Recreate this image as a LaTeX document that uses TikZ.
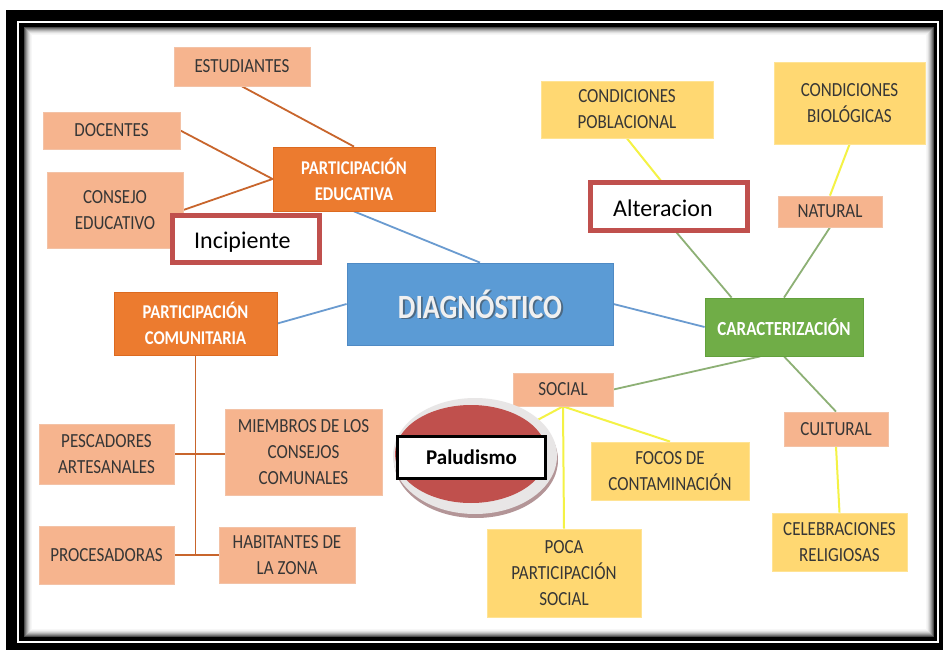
\documentclass[tikz,border=0pt]{standalone}
\usepackage{fontspec}
\setmainfont{Carlito}
\newfontfamily\boxfont{Carlito}[FakeStretch=0.85]
\newfontfamily\diagfont{Carlito}[FakeStretch=0.82]
\usetikzlibrary{calc,backgrounds}
\definecolor{salF}{HTML}{F6B48E}
\definecolor{salD}{HTML}{F3C2A6}
\definecolor{yelF}{HTML}{FFD872}
\definecolor{yelD}{HTML}{FFE394}
\definecolor{orgF}{HTML}{EC7B2F}
\definecolor{orgD}{HTML}{DC6A20}
\definecolor{bluF}{HTML}{5B9BD5}
\definecolor{bluD}{HTML}{4F8AC4}
\definecolor{grnF}{HTML}{70AD47}
\definecolor{grnD}{HTML}{62A03C}
\definecolor{redB}{HTML}{C0504D}
\definecolor{txt}{HTML}{363636}
\definecolor{brnL}{HTML}{C8652C}
\definecolor{bluL}{HTML}{6A9BD0}
\definecolor{grnL}{HTML}{8DB075}
\definecolor{yelL}{HTML}{F4F245}
\definecolor{palG}{HTML}{E8E6E6}
\definecolor{palS}{HTML}{B39597}
\begin{document}
\begin{tikzpicture}[x=1pt,y=-1pt,
  sal/.style={draw=salD, fill=salF, line width=0.8pt, text=txt, align=center, inner sep=0pt,
    font=\boxfont\fontsize{20}{26}\selectfont},
  yel/.style={draw=yelD, fill=yelF, line width=0.8pt, text=txt, align=center, inner sep=0pt,
    font=\boxfont\fontsize{20}{26}\selectfont},
  org/.style={draw=orgD, fill=orgF, line width=0.8pt, text=white, align=center, inner sep=0pt,
    font=\boxfont\bfseries\fontsize{19.5}{26}\selectfont},
  grnbox/.style={draw=grnD, fill=grnF, line width=0.8pt, text=white, align=center, inner sep=0pt,
    font=\boxfont\bfseries\fontsize{20}{26}\selectfont},
  diagbox/.style={draw=bluD, fill=bluF, line width=0.8pt, inner sep=0pt},
  redbox/.style={draw=redB, line width=5pt, fill=white, inner sep=0pt},
  redtext/.style={anchor=base west, inner sep=0pt, text=black, font=\fontsize{24}{28}\selectfont},
  edu/.style={draw=brnL, line width=1.8pt},
  blu/.style={draw=bluL, line width=1.8pt},
  grn/.style={draw=grnL, line width=1.8pt},
  yl/.style={draw=yelL, line width=2pt}]
\useasboundingbox (0,0) rectangle (943,650);

% frame
\begin{scope}[on background layer]
\fill[white] (0,0) rectangle (943,650);
\fill[black] (6,10) rectangle (943,650);
\fill[white] (17,21) rectangle (939,643);
\fill[black] (19,23) rectangle (937,641);
\foreach \i/\c in {0/70,1/55,2/42,3/30,4/20,5/12,6/6,7/3}
  {\fill[black!\c] (24+\i,27+\i) rectangle (934-\i,637-\i);}
\fill[white] (32,35) rectangle (926,629);
\end{scope}

% left: participacion educativa
\node[sal, minimum width=136pt, minimum height=39pt] (est) at (242,66.5) {ESTUDIANTES};
\node[sal, minimum width=137pt, minimum height=37pt] (doc) at (111.5,130.5) {DOCENTES};
\node[sal, minimum width=136pt, minimum height=76pt] (cons) at (115,210) {CONSEJO\\EDUCATIVO};
\node[org, minimum width=162pt, minimum height=64pt] (pe) at (354,179) {PARTICIPACIÓN\\EDUCATIVA};
\node[redbox, minimum width=147pt, minimum height=47pt] (inc) at (246,239) {};
\node[redtext] (inct) at (194,248) {Incipiente};

% center
\node[diagbox, minimum width=266pt, minimum height=82pt] (diag) at (480,304) {};
\node[text=black!75, opacity=0.55, inner sep=0pt, font=\diagfont\bfseries\fontsize{34}{36}\selectfont] (diagsh) at (481.8,305.8) {DIAGNÓSTICO};
\node[text=white!94!black, inner sep=0pt, font=\diagfont\bfseries\fontsize{34}{36}\selectfont] (diagt) at (480,304) {DIAGNÓSTICO};

% left: participacion comunitaria
\node[org, minimum width=163pt, minimum height=63pt] (pc) at (195.5,323.5) {PARTICIPACIÓN\\COMUNITARIA};
\node[sal, minimum width=135pt, minimum height=60pt] (pesc) at (106.5,454) {PESCADORES\\ARTESANALES};
\node[sal, minimum width=157pt, minimum height=86pt] (miem) at (303.5,452) {MIEMBROS DE LOS\\CONSEJOS\\COMUNALES};
\node[sal, minimum width=135pt, minimum height=58pt] (proc) at (106.5,555) {PROCESADORAS};
\node[sal, minimum width=136pt, minimum height=56pt] (hab) at (287,555) {HABITANTES DE\\LA ZONA};

% right: caracterizacion
\node[yel, minimum width=172pt, minimum height=57pt] (cp) at (627,109.5) {CONDICIONES\\POBLACIONAL};
\node[yel, minimum width=151pt, minimum height=82pt] (cb) at (849.5,103) {CONDICIONES\\BIOLÓGICAS};
\node[redbox, minimum width=157pt, minimum height=48pt] (alt) at (669,206.5) {};
\node[redtext] (altt) at (613,216) {Alteracion};
\node[sal, minimum width=104pt, minimum height=31pt] (nat) at (830,211.5) {NATURAL};
\node[grnbox, minimum width=158pt, minimum height=58pt] (car) at (784,327) {CARACTERIZACIÓN};
\node[sal, minimum width=100pt, minimum height=33pt] (soc) at (563,389.5) {SOCIAL};
\node[sal, minimum width=104pt, minimum height=34pt] (cul) at (836,429) {CULTURAL};
\node[yel, minimum width=158pt, minimum height=58pt] (focos) at (670,471) {FOCOS DE\\CONTAMINACIÓN};
\node[yel, minimum width=154pt, minimum height=88pt] (poca) at (564,573) {POCA\\PARTICIPACIÓN\\SOCIAL};
\node[yel, minimum width=135pt, minimum height=58pt] (celeb) at (839.5,542) {CELEBRACIONES\\RELIGIOSAS};

% paludismo
\fill[palS] (476,460) ellipse [x radius=82, y radius=58];
\fill[palG] (475,456) ellipse [x radius=82, y radius=58];
\fill[redB] (471,454) ellipse [x radius=76, y radius=49];
\node[draw=black, line width=2.5pt, fill=white, inner sep=0pt, minimum width=148pt, minimum height=42pt,
  font=\bfseries\fontsize{21}{24}\selectfont] (pal) at (471.5,457.5) {Paludismo};

% hidden ends under the overlay boxes
\coordinate (hy) at (682,207);
\coordinate (hg) at (655,207);
\coordinate (hp) at (500,440);

% connectors
\begin{scope}[on background layer]
\draw[edu] (est.south) -- (pe.north);
\draw[edu] (doc.east) -- (pe.west);
\draw[edu] (cons.east) -- (pe.west);
\draw[edu] (pc.south) -- (pc.south |- proc.east);
\draw[edu] (pesc.east) -- (pesc.east -| miem.west);
\draw[edu] (proc.east) -- (hab.west);
\draw[blu] (pe.south) -- (diag.north);
\draw[blu] (pc.east) -- (diag.west);
\draw[blu] (diag.east) -- (car.west);
\draw[yl] (cp.south) -- (hy);
\draw[grn] (hg) -- ($(car.north west)!0.17!(car.north east)$);
\draw[yl] (cb.south) -- (nat.north);
\draw[grn] (nat.south) -- (car.north);
\draw[grn] (soc.east) -- ($(car.south west)!0.35!(car.south east)$);
\draw[grn] (car.south) -- (cul.north);
\draw[yl] (cul.south) -- (celeb.north);
\draw[yl] (soc.south) -- (poca.north);
\draw[yl] (soc.south) -- (focos.north);
\draw[yl] (soc.south) -- (hp);
\end{scope}
\end{tikzpicture}
\end{document}
